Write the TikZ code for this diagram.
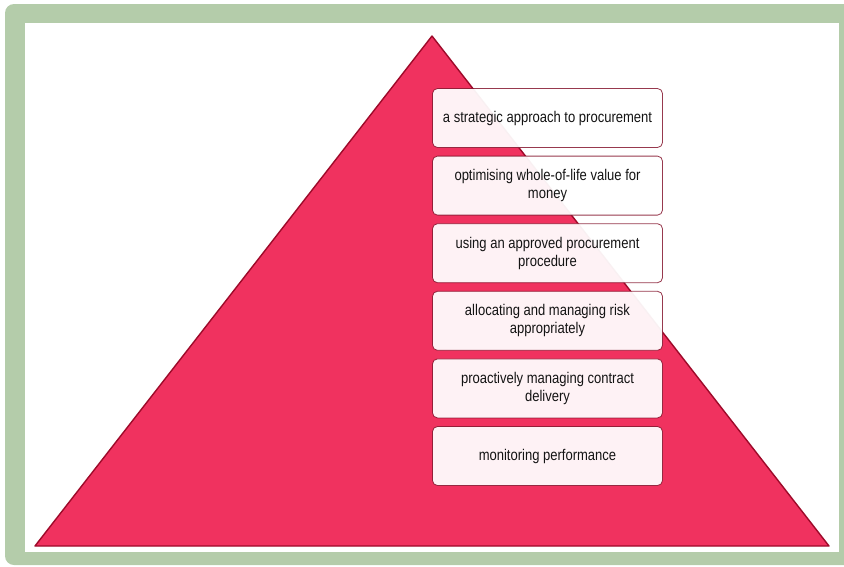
\documentclass[tikz,border=0pt]{standalone}
\usepackage{fontspec}
\setmainfont[FakeStretch=0.84]{Liberation Sans}
\usepackage{xcolor}
\usetikzlibrary{positioning}
\definecolor{sage}{HTML}{B4CCAA}
\definecolor{rose}{HTML}{F0325F}
\definecolor{darkrose}{HTML}{9E0A2A}
\definecolor{ink}{HTML}{141414}

\begin{document}
\begin{tikzpicture}[
  x=1pt,y=-1pt,
  font=\fontsize{15.5}{18}\selectfont,
  stage/.style={draw=darkrose!80!black,line width=0.8pt,fill=white,fill opacity=0.94,draw opacity=0.8,
    text opacity=1,text=ink,rounded corners=5pt,minimum width=230pt,minimum height=59pt,
    align=center,inner sep=2pt},
  node distance=7.8pt
]
\useasboundingbox (0,0) rectangle (844,566);
\clip (0,0) rectangle (844,566);
% frame
\fill[sage,rounded corners=9pt] (5,4) rectangle (860,565);
\fill[white] (25,23) rectangle (839,552);
% pyramid
\draw[fill=rose,draw=darkrose,line width=1.4pt,line join=round] (432,36) -- (829,546) -- (35,546) -- cycle;
% levels
\node[stage] (strat) at (547.5,118) {a strategic approach to procurement};
\node[stage,below=of strat] (value) {optimising whole-of-life value for\\money};
\node[stage,below=of value] (proc) {using an approved procurement\\procedure};
\node[stage,below=of proc] (risk) {allocating and managing risk\\appropriately};
\node[stage,below=of risk] (deliv) {proactively managing contract\\delivery};
\node[stage,below=of deliv] (monit) {monitoring performance};
\end{tikzpicture}
\end{document}
